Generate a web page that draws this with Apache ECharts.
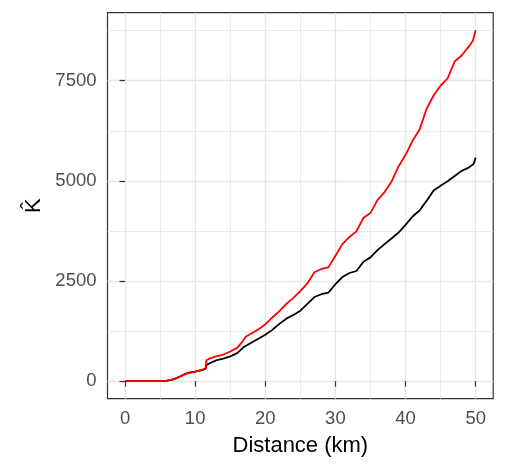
<!DOCTYPE html>
<html>
<head>
<meta charset="utf-8">
<script src="https://cdn.jsdelivr.net/npm/echarts@6/dist/echarts.min.js"></script>
<style>
html,body{margin:0;padding:0;background:#fff;}
#chart{width:506px;height:470px;}
</style>
</head>
<body>
<div id="chart"></div>
<script>
// ---- data ----
const xTicks = [0, 10, 20, 30, 40, 50];
const xMinor = [5, 15, 25, 35, 45];
const yTicks = [0, 2500, 5000, 7500];
const yMinor = [1250, 3750, 6250, 8750];

const redDist = [0, 5.7, 7, 8, 9, 10, 11, 11.5, 11.6, 12, 13, 14, 15, 16, 16.8, 17.2, 18, 19, 20, 21, 22, 23, 24, 25, 26, 27, 28, 29, 30, 31, 32, 33, 34, 35, 36, 37, 38, 39, 40, 41, 42, 43, 44, 45, 46, 47, 48, 49, 49.6, 50];
const redK    = [0, 0, 50, 130, 205, 240, 285, 330, 520, 560, 620, 660, 740, 830, 1000, 1110, 1190, 1290, 1420, 1590, 1750, 1930, 2080, 2250, 2440, 2720, 2800, 2840, 3130, 3420, 3600, 3740, 4080, 4200, 4520, 4720, 4980, 5360, 5650, 6000, 6280, 6800, 7130, 7380, 7560, 7980, 8130, 8350, 8500, 8760];

const blackDist = [0, 5.7, 7, 8, 9, 10, 11, 11.5, 11.6, 12, 13, 14, 15, 16, 17, 18, 19, 20, 21, 22, 23, 24, 25, 26, 27, 28, 29, 30, 31, 32, 33, 34, 35, 36, 37, 38, 39, 40, 41, 42, 43, 44, 45, 46, 47, 48, 49, 49.7, 50];
const blackK    = [0, 0, 50, 130, 205, 235, 275, 310, 400, 440, 520, 560, 620, 700, 860, 960, 1060, 1160, 1280, 1430, 1560, 1650, 1760, 1930, 2100, 2170, 2210, 2420, 2600, 2700, 2750, 2980, 3090, 3270, 3420, 3560, 3710, 3900, 4110, 4260, 4500, 4760, 4880, 4990, 5120, 5250, 5330, 5420, 5580];

// ---- chart ----
const FONT = 'Liberation Sans, Arial, sans-serif';
const gridMajor = '#E6E6E6';
const chart = echarts.init(document.getElementById('chart'), null, {renderer: 'canvas'});

const xRange = {min: -2.5, max: 52.5};
const yRange = {min: -438, max: 9198};
const plain = v => String(v);

chart.setOption({
  animation: false,
  backgroundColor: '#ffffff',
  grid: {left: 107.5, right: 12.8, top: 12.7, bottom: 71.3, show: true,
         borderColor: '#333333', borderWidth: 1.2, backgroundColor: 'transparent', containLabel: false},
  xAxis: [
    {
      type: 'value', min: xRange.min, max: xRange.max, position: 'bottom',
      axisLine: {show: false},
      axisTick: {show: true, length: 5.5, lineStyle: {color: '#333333', width: 1.2}, customValues: xTicks},
      axisLabel: {customValues: xTicks, formatter: plain, color: '#4D4D4D', fontSize: 18.5, fontFamily: FONT, margin: 11},
      splitLine: {show: true, lineStyle: {color: gridMajor, width: 1.3}},
      name: 'Distance (km)', nameLocation: 'middle', nameGap: 36,
      nameTextStyle: {color: '#000000', fontSize: 22, fontFamily: FONT}
    },
    {
      type: 'value', min: xRange.min, max: xRange.max, position: 'top',
      axisLine: {show: false},
      axisTick: {show: false, customValues: xMinor},
      axisLabel: {show: false, customValues: xMinor},
      splitLine: {show: true, lineStyle: {color: gridMajor, width: 0.8}}
    }
  ],
  yAxis: [
    {
      type: 'value', min: yRange.min, max: yRange.max, position: 'left',
      axisLine: {show: false},
      axisTick: {show: true, length: 5.5, lineStyle: {color: '#333333', width: 1.2}, customValues: yTicks},
      axisLabel: {customValues: yTicks, formatter: plain, color: '#4D4D4D', fontSize: 18.5, fontFamily: FONT, margin: 11},
      splitLine: {show: true, lineStyle: {color: gridMajor, width: 1.3}},
      name: 'K\u0302', nameLocation: 'middle', nameGap: 58, nameRotate: 90,
      nameTextStyle: {color: '#000000', fontSize: 22, fontFamily: FONT}
    },
    {
      type: 'value', min: yRange.min, max: yRange.max, position: 'right',
      axisLine: {show: false},
      axisTick: {show: false, customValues: yMinor},
      axisLabel: {show: false, customValues: yMinor},
      splitLine: {show: true, lineStyle: {color: gridMajor, width: 0.8}}
    }
  ],
  series: [
    {
      type: 'line', xAxisIndex: 0, yAxisIndex: 0, showSymbol: false, symbol: 'none',
      data: blackDist.map((d, i) => [d, blackK[i]]),
      lineStyle: {color: '#000000', width: 1.8}, z: 3
    },
    {
      type: 'line', xAxisIndex: 0, yAxisIndex: 0, showSymbol: false, symbol: 'none',
      data: redDist.map((d, i) => [d, redK[i]]),
      lineStyle: {color: '#FF0000', width: 1.8}, z: 4
    }
  ]
});
</script>
</body>
</html>
